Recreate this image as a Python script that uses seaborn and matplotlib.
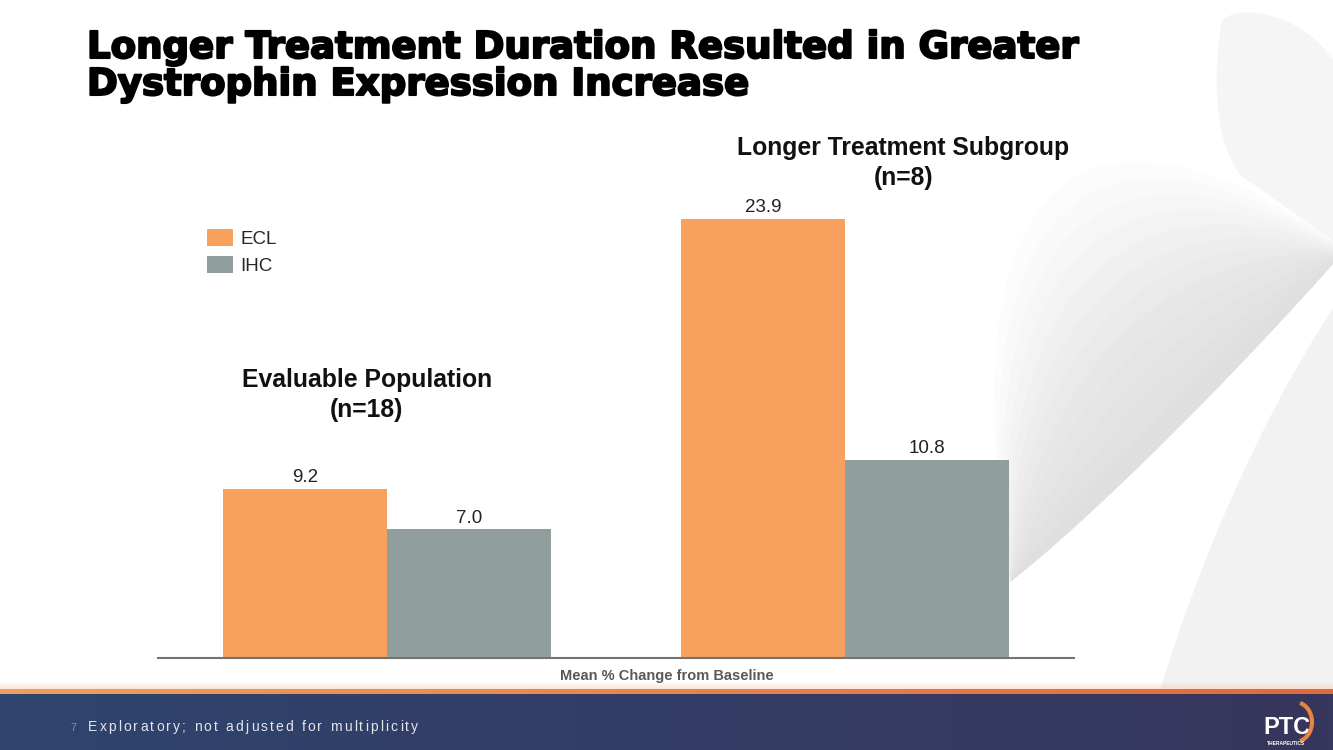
import numpy as np
import pandas as pd
import matplotlib
matplotlib.use("Agg")
import matplotlib.pyplot as plt
import matplotlib.patheffects as pe
from matplotlib.patches import Polygon, Patch, Arc
import seaborn as sns

# data
groups = ["Evaluable Population", "Longer Treatment Subgroup"]
group_labels = [["Evaluable Population", "(n=18)"], ["Longer Treatment Subgroup", "(n=8)"]]
methods = ["ECL", "IHC"]
ecl_values = [9.2, 23.9]
ihc_values = [7.0, 10.8]

title_lines = ["Longer Treatment Duration Resulted in Greater",
               "Dystrophin Expression Increase"]
x_label = "Mean % Change from Baseline"
footer_num = "7"
footer_text = "Exploratory; not adjusted for multiplicity"

ORANGE = "#F8A15E"
GRAY = "#909E9D"

sns.set_style("white")
plt.rcParams["font.family"] = ["Liberation Sans", "DejaVu Sans"]

df = pd.DataFrame({
    "group": groups * 2,
    "method": [methods[0]] * 2 + [methods[1]] * 2,
    "value": ecl_values + ihc_values,
})

W, H = 1333, 750
fig = plt.figure(figsize=(W / 100, H / 100), dpi=100)
fig.patch.set_facecolor("white")

# background layer in pixel coordinates
bg = fig.add_axes([0, 0, 1, 1], zorder=0)
bg.set_xlim(0, W)
bg.set_ylim(H, 0)
bg.axis("off")


def cubic(p0, p1, p2, p3, n=80):
    t = np.linspace(0, 1, n)[:, None]
    p0, p1, p2, p3 = map(np.array, (p0, p1, p2, p3))
    return (1 - t) ** 3 * p0 + 3 * (1 - t) ** 2 * t * p1 + 3 * (1 - t) * t ** 2 * p2 + t ** 3 * p3


# swoosh decoration on the right
top_band = np.vstack([cubic((1333, 60), (1300, 12), (1240, 4), (1222, 20)),
                      cubic((1222, 20), (1212, 80), (1215, 140), (1240, 175)),
                      [[1333, 240]]])
bg.add_patch(Polygon(top_band, closed=True, facecolor="#f5f5f5", edgecolor="none"))

lower = cubic((1010, 582), (1090, 520), (1230, 380), (1333, 264))
upper = cubic((1010, 582), (950, 200), (1060, 60), (1333, 238))
for f in np.linspace(0, 0.92, 12):
    up = upper + (lower - upper) * f
    pts = np.vstack([up, lower[::-1]])
    bg.add_patch(Polygon(pts, closed=True, facecolor="#a0a0a0", edgecolor="none", alpha=0.028))

right_low = cubic((1333, 308), (1260, 420), (1200, 560), (1160, 690))
pts = np.vstack([right_low, [[1333, 690]]])
bg.add_patch(Polygon(pts, closed=True, facecolor="#f2f2f2", edgecolor="none"))

# footer band
grad = np.linspace(0, 1, 256)[None, :, None]
c_left = np.array([47, 68, 110]) / 255
c_right = np.array([55, 54, 92]) / 255
bg.imshow(c_left + (c_right - c_left) * grad, extent=[0, W, H, 694], aspect="auto", zorder=2)
o_left = np.array([236, 160, 100]) / 255
o_right = np.array([226, 104, 62]) / 255
bg.imshow(o_left + (o_right - o_left) * grad, extent=[0, W, 694, 689], aspect="auto", zorder=2)
glow = np.ones((8, 2, 4))
glow[:, :, :3] = [0.97, 0.78, 0.62]
glow[:, :, 3] = np.linspace(0, 0.45, 8)[:, None]
bg.imshow(glow, extent=[0, W, 689, 681], aspect="auto", zorder=2)

bg.text(70, 731, footer_num, fontsize=7.5, color="#8a90a8", zorder=3)
renderer = fig.canvas.get_renderer()
chars = []
for ch in footer_text:
    t = bg.text(0, 731, ch, fontsize=10, color="#e4e6ee", zorder=3)
    if ch == " ":
        w = 0.278 * 10 * 100 / 72
    else:
        w = t.get_window_extent(renderer).width
    chars.append((t, w))
track = (330 - sum(w for _, w in chars)) / (len(chars) - 1)
x = 88
for t, w in chars:
    t.set_x(x)
    x += w + track

bg.text(1263, 734, "PTC", fontsize=17, fontweight="bold", color="white", zorder=3)
bg.add_patch(Arc((1295, 722), 34, 40, theta1=-75, theta2=75, color="#e8843f", lw=3, zorder=3))
bg.text(1267, 745, "THERAPEUTICS", fontsize=3.5, fontweight="bold", color="white", zorder=3)

# title
for line, yb in zip(title_lines, [58, 95]):
    bg.text(87, yb, line, fontsize=26.7, fontweight="bold", color="black", va="baseline",
            family="DejaVu Sans",
            path_effects=[pe.withStroke(linewidth=1.5, foreground="black")], zorder=3)

bg.text(667, 680, x_label, fontsize=10.5, fontweight="bold", color="#595959",
        ha="center", va="baseline", zorder=3)

# chart
ax = fig.add_axes([158 / W, (H - 658) / H, 916 / W, 528 / H], zorder=1)
ax.patch.set_alpha(0)
sns.barplot(data=df, x="group", y="value", hue="method", palette=[ORANGE, GRAY],
            width=0.714, saturation=1, linewidth=0, errorbar=None, ax=ax, legend=False)
for cont in ax.containers:
    ax.bar_label(cont, fmt="%.1f", padding=2, fontsize=13.5, color="#222222")

ax.set_xlim(-0.5, 1.5)
ax.set_ylim(0, 28.74)
ax.set_xticks([])
ax.set_yticks([])
ax.set_xlabel("")
ax.set_ylabel("")
for s in ["top", "left", "right"]:
    ax.spines[s].set_visible(False)
ax.spines["bottom"].set_color("#737373")
ax.spines["bottom"].set_linewidth(1.5)

label_pos = [(-0.044, 14.75, 13.10), (1.127, 27.38, 25.75)]
for (lx, y1, y2), (l1, l2) in zip(label_pos, group_labels):
    ax.text(lx, y1, l1, fontsize=17.8, fontweight="bold", ha="center", va="baseline", color="#111111")
    ax.text(lx, y2, l2, fontsize=17.8, fontweight="bold", ha="center", va="baseline", color="#111111")

handles = [Patch(facecolor=ORANGE, edgecolor="none"), Patch(facecolor=GRAY, edgecolor="none")]
fig.legend(handles, methods, loc="upper left", bbox_to_anchor=(207 / W, 1 - 229 / H),
           frameon=False, fontsize=13.5, borderpad=0, borderaxespad=0,
           handlelength=1.4, handleheight=1.05, handletextpad=0.4, labelspacing=0.42)

fig.savefig("out.png", dpi=100)
